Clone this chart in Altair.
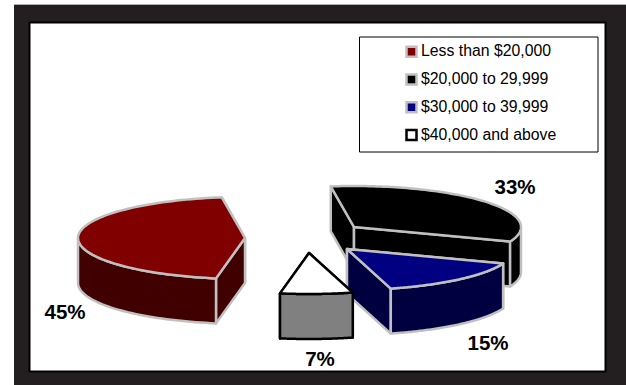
import math
import altair as alt

# Survey shares by income bracket
categories = ["Less than $20,000", "$20,000 to 29,999", "$30,000 to 39,999", "$40,000 and above"]
shares = [45, 33, 15, 7]
top_colors = ["#800000", "#000000", "#000080", "#ffffff"]
side_colors = ["#400000", "#000000", "#000040", "#808080"]
edge_colors = ["#c0c0c0", "#c0c0c0", "#c0c0c0", "#000000"]

# Pie layout: exploded slice apexes, ellipse radii, extrusion depth, first slice angle
apexes = [(245, 238), (354, 227), (347, 249), (309, 253)]
label_pos = [(65, 313), (515, 188), (488, 344), (320, 360)]
RX, RY, DEPTH = 167, 41, 45
START_ANGLE = 190.0

FRAME_COLOR = "#231f20"


def rim(apex, deg):
    rad = math.radians(deg)
    return (apex[0] + RX * math.sin(rad), apex[1] - RY * math.cos(rad))


def feature(points, fill, stroke):
    ring = [list(p) for p in points] + [list(points[0])]
    return {
        "type": "Feature",
        "geometry": {"type": "Polygon", "coordinates": [ring]},
        "properties": {"fill": fill, "stroke": stroke},
    }


def drop(points):
    return [(x, y + DEPTH) for x, y in points]


def slice_faces(apex, a0, a1, top, side, edge):
    """Side walls and top of one extruded slice, back to front."""
    arc = [a0 + (a1 - a0) * i / 90 for i in range(91)]
    rim_pts = [rim(apex, a) for a in arc]
    first, last = rim_pts[0], rim_pts[-1]
    faces = []
    # Radial walls
    for corner in sorted((first, last), key=lambda p: p[1]):
        faces.append(feature([apex, corner, (corner[0], corner[1] + DEPTH), (apex[0], apex[1] + DEPTH)], side, edge))
    # Outer wall: only the part of the rim that faces the viewer
    front = [p for a, p in zip(arc, rim_pts) if 90 <= (a % 360) <= 270]
    if len(front) > 1:
        faces.append(feature(front + drop(front)[::-1], side, edge))
    faces.append(feature([apex] + rim_pts, top, edge))
    return faces


# Cumulative angles run clockwise from the start angle
angle = START_ANGLE
spans = []
for s in shares:
    spans.append((angle, angle + s * 3.6))
    angle += s * 3.6

# Paint order: black, red, blue, then the white slice in front
features = []
for i in (1, 0, 2, 3):
    features += slice_faces(apexes[i], spans[i][0], spans[i][1], top_colors[i], side_colors[i], edge_colors[i])

px_x = lambda f: alt.X(f, type="quantitative", scale=None, axis=None)
px_y = lambda f: alt.Y(f, type="quantitative", scale=None, axis=None)

frame = alt.Chart(alt.Data(values=[{"x": 14, "x2": 626, "y": 5, "y2": 385}])).mark_rect(
    color=FRAME_COLOR
).encode(x=px_x("x"), x2="x2:Q", y=px_y("y"), y2="y2:Q")
top_rule = alt.Chart(alt.Data(values=[{"x": 14, "x2": 626, "y": 4, "y2": 5}])).mark_rect(
    color="#b0b0b0"
).encode(x=px_x("x"), x2="x2:Q", y=px_y("y"), y2="y2:Q")
plot_area = alt.Chart(alt.Data(values=[{"x": 29.5, "x2": 605.5, "y": 22.5, "y2": 371.5}])).mark_rect(
    fill="white", stroke="#000000", strokeWidth=2
).encode(x=px_x("x"), x2="x2:Q", y=px_y("y"), y2="y2:Q")
legend_box = alt.Chart(alt.Data(values=[{"x": 359.5, "x2": 598, "y": 37, "y2": 152}])).mark_rect(
    fill="white", stroke="black", strokeWidth=1
).encode(x=px_x("x"), x2="x2:Q", y=px_y("y"), y2="y2:Q")

pie = alt.Chart(alt.Data(values=features)).mark_geoshape(strokeWidth=2.5, strokeJoin="round").encode(
    fill=alt.Fill("properties.fill:N", scale=None),
    stroke=alt.Stroke("properties.stroke:N", scale=None),
).project(type="identity", scale=1, translate=[0, 0])

legend_rows = [
    {"cat": c, "fill": f, "stroke": "#000000" if f == "#ffffff" else "#c0c0c0",
     "sx": 411.5, "tx": 421, "sy": 51.7 + 27.8 * i, "ty": 50.5 + 28 * i}
    for i, (c, f) in enumerate(zip(categories, top_colors))
]
legend_data = alt.Data(values=legend_rows)
legend_marks = alt.Chart(legend_data).mark_square(size=100, strokeWidth=2.5, opacity=1).encode(
    x=px_x("sx"), y=px_y("sy"),
    fill=alt.Fill("fill:N", scale=None), stroke=alt.Stroke("stroke:N", scale=None),
)
legend_text = alt.Chart(legend_data).mark_text(
    align="left", baseline="middle", font="Liberation Sans", fontSize=15.8, color="#000000"
).encode(x=px_x("tx"), y=px_y("ty"), text="cat:N")

pct_rows = [{"label": f"{s}%", "x": p[0], "y": p[1]} for s, p in zip(shares, label_pos)]
pct_text = alt.Chart(alt.Data(values=pct_rows)).mark_text(
    align="center", baseline="middle", font="Liberation Sans", fontSize=20.5, fontWeight="bold", color="#000000"
).encode(x=px_x("x"), y=px_y("y"), text="label:N")

chart = alt.layer(
    top_rule, frame, plot_area, legend_box, pie, legend_marks, legend_text, pct_text
).properties(
    width=626, height=385, background="white", padding=0,
    autosize=alt.AutoSizeParams(type="none"),
).configure_view(stroke=None)

chart.save("out.html", embed_options={"renderer": "svg", "actions": False})
